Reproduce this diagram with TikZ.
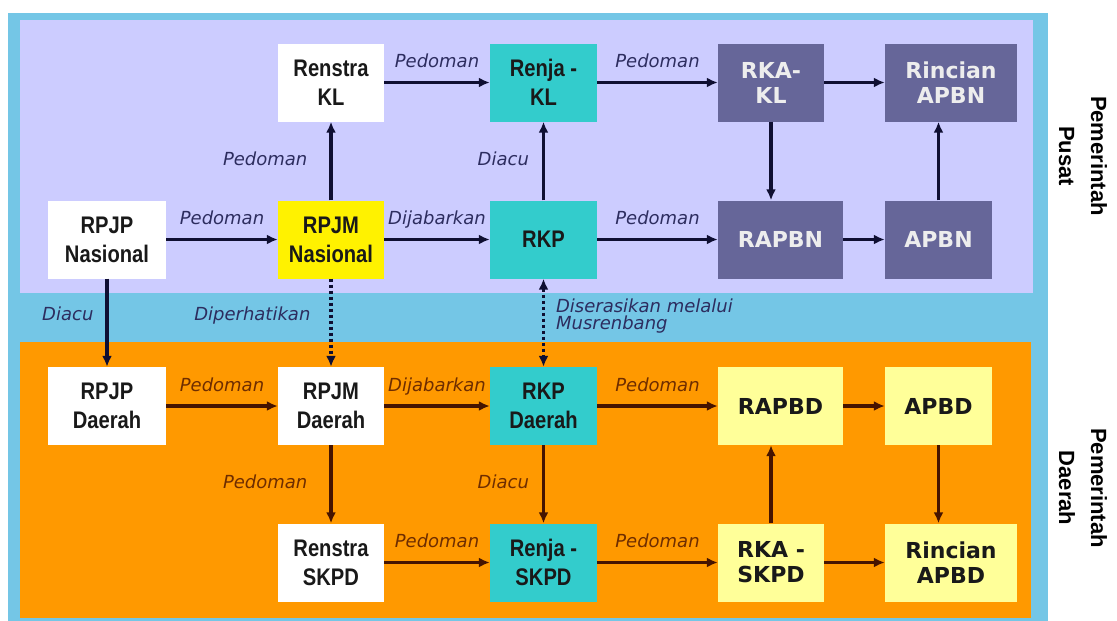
\documentclass[tikz,border=0pt]{standalone}
\usepackage{fontspec}
\usetikzlibrary{arrows.meta}
\newfontfamily\boxfont[FakeStretch=0.84]{Liberation Sans}
\newfontfamily\dvfont{DejaVu Sans}
\newfontfamily\sidefont{Liberation Sans}
\definecolor{bandblue}{RGB}{116,198,230}
\definecolor{pusatbg}{RGB}{204,204,255}
\definecolor{daerahbg}{RGB}{255,153,0}
\definecolor{tealbox}{RGB}{51,204,204}
\definecolor{purplebox}{RGB}{102,102,153}
\definecolor{lightyellow}{RGB}{255,255,153}
\definecolor{pusatink}{RGB}{45,45,95}
\definecolor{daerahink}{RGB}{110,45,0}
\definecolor{pusatarrow}{RGB}{15,15,50}
\definecolor{daeraharrow}{RGB}{70,20,0}

\begin{document}
\begin{tikzpicture}[x=1pt,y=-1pt,
  box/.style={rectangle, inner sep=0pt, minimum width=106pt, minimum height=78pt, align=center,
    text=black!90, font=\boxfont\bfseries\fontsize{24}{29}\selectfont},
  wbox/.style={box, fill=white},
  tbox/.style={box, fill=tealbox, minimum width=107pt},
  ybox/.style={box, fill=yellow},
  pbox/.style={box, fill=purplebox, text=white!93!black, font=\dvfont\bfseries\fontsize{22}{25}\selectfont},
  lybox/.style={box, fill=lightyellow, font=\dvfont\bfseries\fontsize{22}{25}\selectfont},
  arr/.style={draw=pusatarrow, line width=3.2pt, -{Latex[length=11pt,width=10pt]}},
  darr/.style={arr, draw=daeraharrow},
  dots/.style={arr, dash pattern=on 3pt off 3pt},
  lbl/.style={font=\dvfont\itshape\fontsize{18}{18}\selectfont, text=pusatink, inner sep=0pt,
    text height=13pt, text depth=4pt},
  dlbl/.style={lbl, text=daerahink},
  note/.style={font=\dvfont\itshape\fontsize{18}{17}\selectfont, text=pusatink, inner sep=0pt, align=left},
  side/.style={font=\sidefont\bfseries\fontsize{22}{32}\selectfont, align=center, rotate=-90}]
  \useasboundingbox (0,0) rectangle (1117,621);
  \fill[bandblue] (8,13) rectangle (1048,621);
  \fill[pusatbg] (20,20) rectangle (1033,293);
  \fill[daerahbg] (20,342) rectangle (1031,618);

  \node[wbox] (renstrakl) at (331,82.5) {Renstra\\KL};
  \node[tbox] (renjakl) at (543.5,82.5) {Renja -\\KL};
  \node[pbox] (rkakl) at (771,82.5) {RKA-\\KL};
  \node[pbox, minimum width=132pt] (rincianapbn) at (951,82.5) {Rincian\\APBN};
  \node[wbox, minimum width=118pt] (rpjpnas) at (107,239.5) {RPJP\\Nasional};
  \node[ybox] (rpjmnas) at (331,239.5) {RPJM\\Nasional};
  \node[tbox] (rkp) at (543.5,239.5) {RKP};
  \node[pbox, minimum width=125pt] (rapbn) at (780.5,239.5) {RAPBN};
  \node[pbox, minimum width=107pt] (apbn) at (938.5,239.5) {APBN};

  \node[wbox, minimum width=118pt] (rpjpd) at (107,406) {RPJP\\Daerah};
  \node[wbox] (rpjmd) at (331,406) {RPJM\\Daerah};
  \node[tbox] (rkpd) at (543.5,406) {RKP\\Daerah};
  \node[lybox, minimum width=125pt] (rapbd) at (780.5,406) {RAPBD};
  \node[lybox, minimum width=107pt] (apbd) at (938.5,406) {APBD};
  \node[wbox] (renstraskpd) at (331,562.5) {Renstra\\SKPD};
  \node[tbox] (renjaskpd) at (543.5,562.5) {Renja -\\SKPD};
  \node[lybox] (rkaskpd) at (771,562.5) {RKA -\\SKPD};
  \node[lybox, minimum width=132pt] (rincianapbd) at (951,562.5) {Rincian\\APBD};

  \draw[arr] (renstrakl) -- (renjakl) node[lbl, midway, above=9pt] {Pedoman};
  \draw[arr] (renjakl) -- (rkakl) node[lbl, midway, above=9pt] {Pedoman};
  \draw[arr] (rkakl) -- (rincianapbn);
  \draw[arr] (rpjmnas) -- (renstrakl) node[lbl, midway, left=22pt] {Pedoman};
  \draw[arr] (rkp) -- (renjakl) node[lbl, midway, left=13pt] {Diacu};
  \draw[arr] (rkakl) -- (rkakl |- rapbn.north);
  \draw[arr] (apbn) -- (apbn |- rincianapbn.south);
  \draw[arr] (rpjpnas) -- (rpjmnas) node[lbl, midway, above=9pt] {Pedoman};
  \draw[arr] (rpjmnas) -- (rkp) node[lbl, midway, above=9pt] {Dijabarkan};
  \draw[arr] (rkp) -- (rapbn) node[lbl, midway, above=9pt] {Pedoman};
  \draw[arr] (rapbn) -- (apbn);

  \draw[arr] (rpjpnas) -- (rpjpd) node[lbl, pos=0.42, left=12pt] {Diacu};
  \draw[dots] (rpjmnas) -- (rpjmd) node[lbl, pos=0.42, left=19pt] {Diperhatikan};
  \draw[dots, {Latex[length=11pt,width=10pt]}-{Latex[length=11pt,width=10pt]}] (rkp) -- (rkpd)
    node[note, pos=0.42, right=11pt] {Diserasikan melalui\\Musrenbang};

  \draw[darr] (rpjpd) -- (rpjmd) node[dlbl, midway, above=9pt] {Pedoman};
  \draw[darr] (rpjmd) -- (rkpd) node[dlbl, midway, above=9pt] {Dijabarkan};
  \draw[darr] (rkpd) -- (rapbd) node[dlbl, midway, above=9pt] {Pedoman};
  \draw[darr] (rapbd) -- (apbd);
  \draw[darr] (rpjmd) -- (renstraskpd) node[dlbl, midway, left=22pt] {Pedoman};
  \draw[darr] (rkpd) -- (renjaskpd) node[dlbl, midway, left=13pt] {Diacu};
  \draw[darr] (renstraskpd) -- (renjaskpd) node[dlbl, midway, above=9pt] {Pedoman};
  \draw[darr] (renjaskpd) -- (rkaskpd) node[dlbl, midway, above=9pt] {Pedoman};
  \draw[darr] (rkaskpd) -- (rincianapbd);
  \draw[darr] (rkaskpd) -- (rkaskpd |- rapbd.south);
  \draw[darr] (apbd) -- (apbd |- rincianapbd.north);

  \node[side] (pusat) at (1083,156) {Pemerintah\\Pusat};
  \node[side] (daerah) at (1083,488) {Pemerintah\\Daerah};
\end{tikzpicture}
\end{document}
